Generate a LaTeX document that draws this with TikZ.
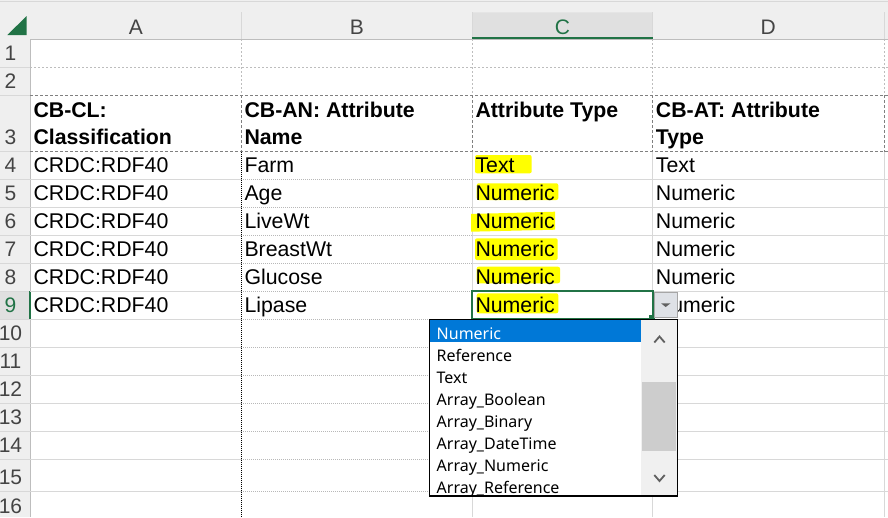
\documentclass[tikz,border=0pt]{standalone}
\usepackage{fontspec}
\setmainfont{Liberation Sans}
\newfontfamily\uifont{Noto Sans}
\definecolor{hdrbg}{HTML}{EFEFEF}
\definecolor{hdrsel}{HTML}{E0E0E0}
\definecolor{hdrtext}{HTML}{444444}
\definecolor{hdrline}{HTML}{BDBDBD}
\definecolor{gridln}{HTML}{D8D8D8}
\definecolor{dashdark}{HTML}{808080}
\definecolor{xlgreen}{HTML}{217346}
\definecolor{selblue}{HTML}{0078D7}
\definecolor{scrollbg}{HTML}{F0F0F0}
\definecolor{thumbgray}{HTML}{CDCDCD}
\definecolor{arrowgray}{HTML}{606060}
\definecolor{btnfill}{HTML}{DEE1E6}
\definecolor{hiyellow}{HTML}{FFFF00}
\begin{document}
\begin{tikzpicture}[x=1pt,y=-1pt,
cell/.style={anchor=base west,inner sep=0pt,font=\fontsize{21.3}{27}\selectfont},
hcell/.style={cell,font=\fontsize{21.3}{27}\selectfont\bfseries},
rownum/.style={anchor=base,inner sep=0pt,font=\fontsize{21}{24}\selectfont},
grid/.style={draw=gridln,line width=1pt},
dotgrid/.style={draw=gridln!85!black,line width=1pt,dash pattern=on 1pt off 1pt},
lightdash/.style={draw=hdrline,line width=1pt,dash pattern=on 2pt off 2pt},
darkdash/.style={draw=dashdark,line width=1pt,dash pattern=on 3pt off 2pt},
hilite/.style={fill=hiyellow,rounded corners=2pt},
item/.style={anchor=base west,inner sep=0pt,font=\uifont\fontsize{16}{19}\selectfont},
]
\fill[white] (0,0) rectangle (888,517);
\useasboundingbox (0,0) rectangle (888,517);
% headers
\fill[hdrbg] (0,0) rectangle (888,39.3) (0,39.3) rectangle (30,517);
\draw[gridln] (0,1.5) -- (888,1.5);
\fill[hdrsel] (472.3,12.3) rectangle (652.7,39.3) (0,291.3) rectangle (30,319.3);
\foreach \x in {241.3,472.3,652.7,884} \draw[grid] (\x,12.3) -- (\x,39.3);
\foreach \y in {67.3,95.3,151.7,179.3,207.3,235.3,263.3,291.3,319.3,347.3,375.3,403.3,431.3,459.3,491.3}
  \draw[grid] (0,\y) -- (30,\y);
\draw[hdrline] (30,39.3) -- (888,39.3) (30,39.3) -- (30,517);
\draw[xlgreen,line width=2pt] (472.3,38.3) -- (652.7,38.3) (29.5,291.3) -- (29.5,319.3);
\fill[xlgreen] (7.3,35) -- (26.7,35) -- (26.7,16) -- cycle;
\foreach \l/\x/\c in {A/135.8/hdrtext,B/356.8/hdrtext,C/562.5/xlgreen,D/768.3/hdrtext}
  \node[rownum,text=\c] (col\l) at (\x,34) {\l};
\foreach \r/\y/\c in {1/60.3/hdrtext,2/88.3/hdrtext,3/144/hdrtext,4/172.3/hdrtext,5/200.3/hdrtext,
  6/228.3/hdrtext,7/256.3/hdrtext,8/284.3/hdrtext,9/312.3/xlgreen,10/340.3/hdrtext,11/368.3/hdrtext,
  12/396.3/hdrtext,13/424.3/hdrtext,14/452.3/hdrtext,15/484.5/hdrtext,16/513.5/hdrtext}
  \node[rownum,text=\c] (row\r) at (10.5,\y) {\r};
% grid
\draw[lightdash] (30,67.3) -- (888,67.3);
\foreach \x in {241.3,472.3,652.7,884} {
  \draw[lightdash] (\x,39.3) -- (\x,95.3);
  \draw[darkdash] (\x,95.3) -- (\x,151.7);
}
\draw[darkdash] (30,95.3) -- (888,95.3) (30,151.7) -- (888,151.7);
\foreach \y in {179.3,207.3,235.3,263.3,291.3,319.3,347.3,375.3,403.3,431.3,459.3,491.3} {
  \draw[grid] (30,\y) -- (241.3,\y) (472.3,\y) -- (888,\y);
  \draw[dotgrid] (241.3,\y) -- (472.3,\y);
}
\foreach \x in {472.3,652.7,884} \draw[grid] (\x,151.7) -- (\x,517);
\draw[black,line width=1pt,dash pattern=on 1pt off 1pt] (241.3,151.7) -- (241.3,517);
% highlights
\path[hilite]
    (475,155) rectangle (531.7,173.3)
    (476.7,183.3) rectangle (558.3,200)
    (476.7,293.3) rectangle (558.3,313.3)
    (476.7,266.7) rectangle (560,283.3)
    (475,238.3) rectangle (557.7,260);
\fill[hiyellow] (471,214) -- (555,211.7) -- (555,229.7) -- (471,231.7) -- cycle;
% cells
\node[hcell] (a3) at (33.3,117) {CB-CL:};
\node[hcell] (a3x) at (33.3,144) {Classification};
\node[hcell] (b3) at (244.3,117) {CB-AN: Attribute};
\node[hcell] (b3x) at (244.3,144) {Name};
\node[hcell] (c3) at (475.3,117) {Attribute Type};
\node[hcell] (d3) at (655.7,117) {CB-AT: Attribute};
\node[hcell] (d3x) at (655.7,144) {Type};
\foreach \r/\y/\nm/\ty in {4/172.7/Farm/Text,5/200.7/Age/Numeric,6/228.7/LiveWt/Numeric,
  7/256.7/BreastWt/Numeric,8/284.7/Glucose/Numeric,9/312.7/Lipase/Numeric} {
  \node[cell] (a\r) at (33.3,\y) {CRDC:RDF40};
  \node[cell] (b\r) at (244.3,\y) {\nm};
  \node[cell] (c\r) at (475.3,\y) {\ty};
  \node[cell] (d\r) at (655.7,\y) {\ty};
}
% active cell and list button
\draw[xlgreen,line width=2pt] (472.3,291.3) rectangle (653,318.5);
\fill[xlgreen] (649,315) rectangle (654.5,320);
\draw[draw=gray!70,fill=btnfill] (653.7,292) rectangle (677.5,317.5);
\fill[arrowgray] (661,303.3) -- (670.5,303.3) -- (665.7,307) -- cycle;
% drop-down list
\fill[white] (429.3,319.3) rectangle (677.3,496);
\fill[selblue] (429.8,319.8) rectangle (641,341.7);
\fill[scrollbg] (641,319.8) rectangle (676.8,495.5);
\fill[thumbgray] (642,381.7) rectangle (676,450.7);
\draw[arrowgray,line width=1.8pt] (654.3,342.5) -- (659.5,336.5) -- (664.7,342.5)
    (654.3,475) -- (659.5,481) -- (664.7,475);
\begin{scope}
\clip (429.3,319.3) rectangle (641,496);
\node[item,text=white] (opt0) at (436.5,339.3) {Numeric};
\foreach \t [count=\i] in {Reference,Text,Array\_Boolean,Array\_Binary,Array\_DateTime,Array\_Numeric,Array\_Reference}
  \node[item] (opt\i) at (436.5,{339.3+22*\i}) {\t};
\end{scope}
\draw[black,line width=1.2pt] (429.3,319.3) rectangle (677.3,496);
\end{tikzpicture}
\end{document}
